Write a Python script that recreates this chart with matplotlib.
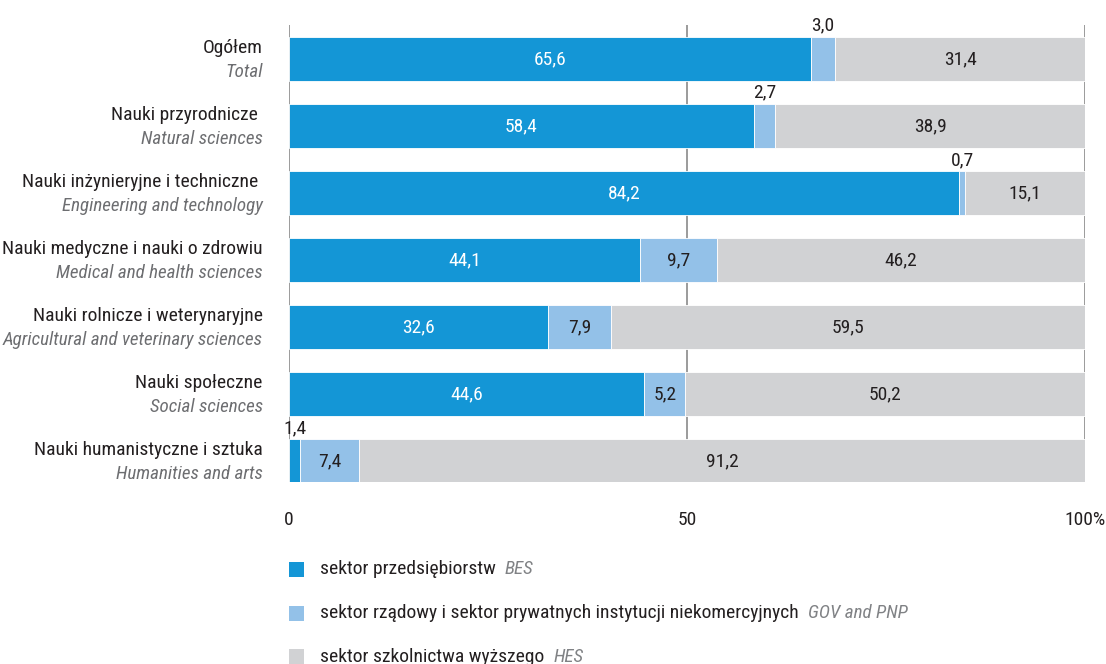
import matplotlib
matplotlib.use("Agg")
import matplotlib.pyplot as plt
from matplotlib.patches import Rectangle
from matplotlib import font_manager

# dane
kategorie_pl = ["Ogółem", "Nauki przyrodnicze ", "Nauki inżynieryjne i techniczne ",
                "Nauki medyczne i nauki o zdrowiu", "Nauki rolnicze i weterynaryjne",
                "Nauki społeczne", "Nauki humanistyczne i sztuka"]
kategorie_en = ["Total", "Natural sciences", "Engineering and technology",
                "Medical and health sciences", "Agricultural and veterinary sciences",
                "Social sciences", "Humanities and arts"]
bes = [65.6, 58.4, 84.2, 44.1, 32.6, 44.6, 1.4]
gov = [3.0, 2.7, 0.7, 9.7, 7.9, 5.2, 7.4]
hes = [31.4, 38.9, 15.1, 46.2, 59.5, 50.2, 91.2]

legenda_pl = ["sektor przedsiębiorstw", "sektor rządowy i sektor prywatnych instytucji niekomercyjnych",
              "sektor szkolnictwa wyższego"]
legenda_en = ["BES", "GOV and PNP", "HES"]

kolory = ["#1496d6", "#93c1e8", "#d1d2d4"]
TXT = "#231f20"
SZARY = "#6d6e71"

dostepne = {f.name for f in font_manager.fontManager.ttflist}
rodzina = "Roboto Condensed" if "Roboto Condensed" in dostepne else "DejaVu Sans"
plt.rcParams['font.family'] = [rodzina, 'DejaVu Sans']

W, H = 1106, 664
fig = plt.figure(figsize=(W / 100, H / 100), dpi=100)
ax = fig.add_axes([289 / W, 1 - 482 / H, (1085 - 289) / W, (482 - 25) / H])

y = list(range(len(bes)))
left2 = [a for a in bes]
left3 = [a + b for a, b in zip(bes, gov)]
h = 0.66
for x in (0, 50, 100):
    ax.axvline(x, color="#8a8a8a", lw=1.2, zorder=0)
ax.barh(y, bes, height=h, color=kolory[0], edgecolor="white", linewidth=0.6, zorder=2)
ax.barh(y, gov, left=left2, height=h, color=kolory[1], edgecolor="white", linewidth=0.6, zorder=2)
ax.barh(y, hes, left=left3, height=h, color=kolory[2], edgecolor="white", linewidth=0.6, zorder=2)

fs = 14
fs_en = 13.7


def fmt(v):
    return f"{v:.1f}".replace(".", ",")


for i in y:
    for start, v, kol in ((0, bes[i], "white"), (left2[i], gov[i], TXT), (left3[i], hes[i], TXT)):
        cx = start + v / 2
        if v < 4:
            ax.text(cx, i - h / 2 - 0.03, fmt(v), ha="center", va="bottom", fontsize=fs, color=TXT, zorder=3)
        else:
            ax.text(cx, i, fmt(v), ha="center", va="center", fontsize=fs, color=kol, zorder=3)

ax.set_xlim(0, 100)
ax.set_ylim(6.313, -0.507)
for s in ax.spines.values():
    s.set_visible(False)
ax.set_xticks([])
ax.set_yticks([])

# etykiety osi
for i in y:
    ax.text(-3.3, i - 0.17, kategorie_pl[i], ha="right", va="center", fontsize=fs, color=TXT)
    ax.text(-3.3, i + 0.2, kategorie_en[i], ha="right", va="center", fontsize=fs_en, color=SZARY,
            style="italic")

for x, lab in ((0, "0"), (50, "50"), (100, "100%")):
    fig.text((289 + x * 7.96) / W, 1 - 520 / H, lab, ha="center", va="center", fontsize=fs, color=TXT)

# legenda
fig.canvas.draw()
r = fig.canvas.get_renderer()
for k, yy in enumerate((569, 613, 657)):
    fig.add_artist(Rectangle((289 / W, 1 - (yy + 7.5) / H), 15 / W, 15 / H, color=kolory[k],
                             transform=fig.transFigure, lw=0))
    t = fig.text(320 / W, 1 - yy / H, legenda_pl[k], ha="left", va="center", fontsize=fs, color=TXT)
    bb = t.get_window_extent(renderer=r)
    fig.text((bb.x1 + 9) / W, 1 - yy / H, legenda_en[k], ha="left", va="center", fontsize=fs_en,
             color="#808285", style="italic")

fig.savefig("out.png", dpi=100)
